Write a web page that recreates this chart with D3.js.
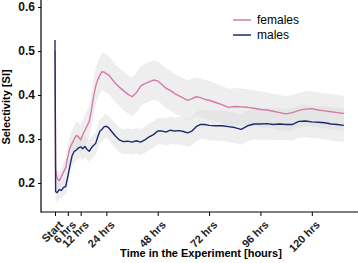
<!DOCTYPE html>
<html>
<head>
<meta charset="utf-8">
<script src="https://cdn.jsdelivr.net/npm/d3@7"></script>
<style>
  body { margin: 0; background: #fff; }
  text { font-family: "Liberation Sans", Arial, sans-serif; }
</style>
</head>
<body>
<div id="chart"></div>
<script>
// hours since start
const hours = [0, 0.3, 1, 2, 3, 4, 5, 6, 7, 8, 9, 10, 11, 12, 13, 14, 15, 16, 17, 18, 19, 20, 21, 22, 23, 24,
  25, 26, 28, 30, 32, 34, 36, 38, 40, 42, 44, 46, 48, 50, 52, 54, 56, 58, 60, 62, 64, 66, 68, 70, 72,
  75, 78, 81, 84, 87, 90, 93, 96, 99, 102, 105, 108, 111, 114, 117, 120, 123, 126, 129, 132, 135];

const femalesSI = [0.50, 0.23, 0.21, 0.205, 0.215, 0.225, 0.235, 0.26, 0.28, 0.29, 0.30, 0.308, 0.305, 0.298,
  0.31, 0.32, 0.33, 0.34, 0.365, 0.395, 0.42, 0.435, 0.445, 0.453, 0.452, 0.448,
  0.446, 0.44, 0.428, 0.418, 0.41, 0.402, 0.396, 0.405, 0.42, 0.426, 0.43, 0.434, 0.432, 0.424, 0.415,
  0.41, 0.403, 0.398, 0.393, 0.388, 0.392, 0.396, 0.394, 0.39, 0.388,
  0.383, 0.378, 0.372, 0.374, 0.373, 0.372, 0.37, 0.367, 0.366, 0.363, 0.36, 0.357, 0.36, 0.365, 0.368,
  0.369, 0.366, 0.364, 0.362, 0.36, 0.358];

const femalesCI = [0.02, 0.02, 0.02, 0.02, 0.02, 0.022, 0.024, 0.026, 0.028, 0.03, 0.03, 0.032, 0.032, 0.033,
  0.034, 0.035, 0.036, 0.037, 0.038, 0.04, 0.041, 0.042, 0.042, 0.043, 0.043, 0.043,
  0.043, 0.043, 0.043, 0.043, 0.044, 0.044, 0.044, 0.045, 0.045, 0.045, 0.045, 0.045, 0.045, 0.045, 0.045,
  0.045, 0.045, 0.045, 0.045, 0.045, 0.045, 0.044, 0.044, 0.044, 0.044,
  0.043, 0.043, 0.042, 0.042, 0.042, 0.041, 0.041, 0.041, 0.04, 0.04, 0.04, 0.04, 0.04, 0.04, 0.04,
  0.04, 0.04, 0.04, 0.04, 0.04, 0.04];

const malesSI = [0.525, 0.18, 0.178, 0.185, 0.183, 0.19, 0.192, 0.215, 0.24, 0.262, 0.272, 0.275, 0.28, 0.282,
  0.278, 0.283, 0.276, 0.272, 0.28, 0.285, 0.29, 0.305, 0.318, 0.322, 0.328, 0.329,
  0.326, 0.32, 0.308, 0.298, 0.294, 0.295, 0.293, 0.296, 0.293, 0.298, 0.305, 0.31, 0.318, 0.318, 0.316,
  0.32, 0.318, 0.319, 0.317, 0.314, 0.318, 0.328, 0.333, 0.333, 0.331,
  0.33, 0.33, 0.328, 0.326, 0.322, 0.33, 0.334, 0.334, 0.335, 0.333, 0.334, 0.333, 0.333, 0.34, 0.341,
  0.339, 0.338, 0.337, 0.334, 0.333, 0.331];

const malesCI = [0.02, 0.025, 0.02, 0.018, 0.018, 0.018, 0.018, 0.02, 0.022, 0.024, 0.025, 0.025, 0.025, 0.025,
  0.025, 0.025, 0.025, 0.025, 0.025, 0.026, 0.026, 0.027, 0.027, 0.027, 0.027, 0.027,
  0.027, 0.028, 0.028, 0.028, 0.028, 0.029, 0.029, 0.029, 0.03, 0.03, 0.03, 0.03, 0.03, 0.03, 0.031,
  0.031, 0.031, 0.031, 0.032, 0.032, 0.032, 0.033, 0.033, 0.033, 0.034,
  0.034, 0.034, 0.034, 0.035, 0.035, 0.035, 0.035, 0.036, 0.036, 0.036, 0.036, 0.036, 0.037, 0.037, 0.037,
  0.037, 0.037, 0.038, 0.038, 0.038, 0.038];

const xTicks = [0, 6, 12, 24, 48, 72, 96, 120];
const xTickLabels = ["Start", "6 hrs", "12 hrs", "24 hrs", "48 hrs", "72 hrs", "96 hrs", "120 hrs"];
const yTicks = [0.2, 0.3, 0.4, 0.5, 0.6];

const seriesNames = ["females", "males"];
const seriesColors = ["#d778ab", "#1b2a6e"];

const W = 358, H = 263;
const svg = d3.select("#chart").append("svg")
  .attr("width", W)
  .attr("height", H);

// scales
const x = d3.scaleLinear().domain([0, 135]).range([55, 343.9]);
const y = d3.scaleLinear().domain([0.134, 0.616]).range([212, 0]);

const series = [
  { name: seriesNames[0], mean: femalesSI, ci: femalesCI, color: seriesColors[0] },
  { name: seriesNames[1], mean: malesSI, ci: malesCI, color: seriesColors[1] }
];

const area = d3.area()
  .x(d => x(d.t))
  .y0(d => y(d.m - d.c))
  .y1(d => y(d.m + d.c));
const line = d3.line()
  .x(d => x(d.t))
  .y(d => y(d.m));

const pts = s => hours.map((t, i) => ({ t: t, m: s.mean[i], c: s.ci[i] }));

// CI bands
svg.append("g").selectAll("path")
  .data(series)
  .join("path")
    .attr("d", s => area(pts(s).slice(1)))
    .attr("fill", "#d9d9d9")
    .attr("opacity", 0.45);

// mean lines
svg.append("g").selectAll("path")
  .data(series)
  .join("path")
    .attr("d", s => line(pts(s)))
    .attr("fill", "none")
    .attr("stroke", s => s.color)
    .attr("stroke-width", 1.4)
    .attr("stroke-linejoin", "round");

// axes
const yAxis = svg.append("g")
  .attr("transform", "translate(41,0)")
  .call(d3.axisLeft(y).tickValues(yTicks).tickFormat(d3.format(".1f")).tickSize(3));
yAxis.select(".domain").remove();
yAxis.selectAll("text")
  .style("font-size", "12px")
  .style("font-weight", "bold")
  .attr("fill", "#111");

const xAxis = svg.append("g")
  .attr("transform", "translate(0,212)")
  .call(d3.axisBottom(x).tickValues(xTicks).tickFormat((d, i) => xTickLabels[i]).tickSize(4));
xAxis.select(".domain").remove();
xAxis.selectAll("text")
  .attr("transform", "translate(-2,3) rotate(-45)")
  .style("text-anchor", "end")
  .attr("dy", "0.7em")
  .attr("dx", "0")
  .style("font-size", "11px")
  .style("font-weight", "bold")
  .attr("fill", "#222");

// axis lines
svg.append("line")
  .attr("x1", 41).attr("x2", 41).attr("y1", 0).attr("y2", 212.5)
  .attr("stroke", "#000").attr("stroke-width", 1.2);
svg.append("line")
  .attr("x1", 41).attr("x2", W).attr("y1", 212).attr("y2", 212)
  .attr("stroke", "#000").attr("stroke-width", 1.2);

// axis titles
svg.append("text")
  .attr("x", 201).attr("y", 257)
  .attr("text-anchor", "middle")
  .style("font-size", "11px")
  .style("font-weight", "bold")
  .text("Time in the Experiment [hours]");

svg.append("text")
  .attr("transform", "translate(10,107) rotate(-90)")
  .attr("text-anchor", "middle")
  .style("font-size", "11px")
  .style("font-weight", "bold")
  .text("Selectivity [SI]");

// legend
const legend = svg.append("g")
  .attr("transform", "translate(233,20)");
const legendItem = legend.selectAll("g")
  .data(series)
  .join("g")
    .attr("transform", (d, i) => `translate(0,${i * 15})`);
legendItem.append("line")
  .attr("x1", 0).attr("x2", 18)
  .attr("stroke", d => d.color)
  .attr("stroke-width", 1.5);
legendItem.append("text")
  .attr("x", 24)
  .attr("y", 0)
  .attr("dy", "0.35em")
  .style("font-size", "12px")
  .text(d => d.name);
</script>
</body>
</html>
